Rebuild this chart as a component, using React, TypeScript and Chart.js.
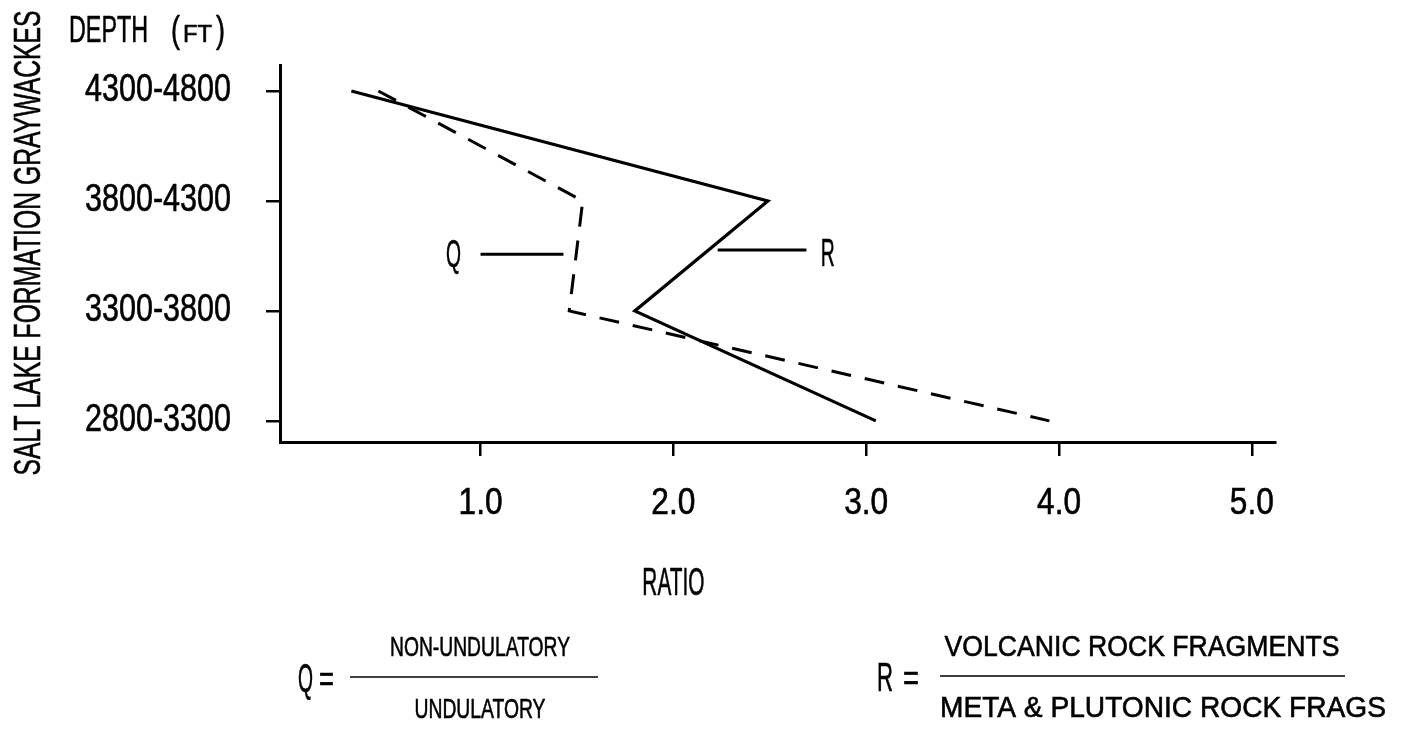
import React, { useEffect, useRef } from 'react';
import { Chart, registerables } from 'chart.js';

Chart.register(...registerables);

// ---- data ----
const depthRanges = ['4300-4800', '3800-4300', '3300-3800', '2800-3300'];
const depthMidpoints = [4550, 4050, 3550, 3050];
const qRatio = [0.47, 1.53, 1.46, 3.95];
const rRatio = [0.33, 2.49, 1.8, 3.05];
const xTickValues = [1, 2, 3, 4, 5];
const xTickLabels = ['1.0', '2.0', '3.0', '4.0', '5.0'];

const FONT = '"Liberation Sans", Arial, sans-serif';
const INK = '#000';

// draws text with a given cap height, squeezed horizontally to a given width
function fitText(
  ctx: CanvasRenderingContext2D,
  text: string,
  x: number,
  cy: number,
  capH: number,
  width: number,
  align: CanvasTextAlign
) {
  const size = capH / 0.716;
  ctx.save();
  ctx.font = `${size}px ${FONT}`;
  const w = ctx.measureText(text).width;
  ctx.translate(x, cy + capH / 2);
  ctx.scale(width / w, 1);
  ctx.textAlign = align;
  ctx.textBaseline = 'alphabetic';
  ctx.fillStyle = INK;
  ctx.strokeStyle = INK;
  ctx.lineWidth = 0.6;
  ctx.fillText(text, 0, 0);
  ctx.strokeText(text, 0, 0);
  ctx.restore();
}

function hLine(ctx: CanvasRenderingContext2D, x1: number, x2: number, y: number, w: number) {
  ctx.save();
  ctx.strokeStyle = INK;
  ctx.lineWidth = w;
  ctx.beginPath();
  ctx.moveTo(x1, y);
  ctx.lineTo(x2, y);
  ctx.stroke();
  ctx.restore();
}

const textPlugin = {
  id: 'textPlugin',
  afterDraw(chart: any) {
    const ctx: CanvasRenderingContext2D = chart.ctx;
    const xs = chart.scales.x;
    const ys = chart.scales.y;

    // rotated axis title
    ctx.save();
    ctx.translate(26, 243);
    ctx.rotate(-Math.PI / 2);
    fitText(ctx, 'SALT LAKE FORMATION GRAYWACKES', 0, 0, 27, 465, 'center');
    ctx.restore();

    // DEPTH (FT)
    fitText(ctx, 'DEPTH', 69, 28, 27, 79, 'left');
    fitText(ctx, '(', 171, 28, 27, 9, 'left');
    fitText(ctx, 'FT', 183, 33, 17, 29, 'left');
    fitText(ctx, ')', 216, 28, 27, 9, 'left');

    // y tick labels
    depthMidpoints.forEach((d, i) => {
      const py = ys.getPixelForValue(d);
      fitText(ctx, depthRanges[i], 231, py - 4, 28, 146, 'right');
    });

    // x tick labels
    xTickValues.forEach((v, i) => {
      const px = xs.getPixelForValue(v);
      fitText(ctx, xTickLabels[i], px, 500, 27, 44, 'center');
    });

    // x title
    fitText(ctx, 'RATIO', xs.getPixelForValue(2.0), 581, 28, 62, 'center');

    // Q / R leader labels
    const qy = ys.getPixelForValue(3812);
    fitText(ctx, 'Q', xs.getPixelForValue(0.86), qy, 28, 15, 'center');
    hLine(ctx, xs.getPixelForValue(1.0), xs.getPixelForValue(1.43), qy + 1, 3);
    const ry = ys.getPixelForValue(3818);
    fitText(ctx, 'R', xs.getPixelForValue(2.8), ry, 28, 14, 'center');
    hLine(ctx, xs.getPixelForValue(2.23), xs.getPixelForValue(2.69), ry - 2, 3);

    // formulas
    fitText(ctx, 'Q', 298, 677, 29, 15, 'left');
    fitText(ctx, '=', 319, 678, 26, 15, 'left');
    fitText(ctx, 'NON-UNDULATORY', 480, 646, 20, 180, 'center');
    hLine(ctx, 350, 598, 677, 1.5);
    fitText(ctx, 'UNDULATORY', 480, 708, 20, 131, 'center');

    fitText(ctx, 'R', 877, 676, 29, 16, 'left');
    fitText(ctx, '=', 903, 677, 26, 16, 'left');
    fitText(ctx, 'VOLCANIC ROCK FRAGMENTS', 1142, 645, 21, 395, 'center');
    hLine(ctx, 940, 1345, 676, 1.5);
    fitText(ctx, 'META & PLUTONIC ROCK FRAGS', 1163, 706, 21, 446, 'center');
  },
};

export default function App() {
  const canvasRef = useRef<HTMLCanvasElement | null>(null);

  useEffect(() => {
    const canvas = canvasRef.current;
    if (!canvas) return;
    const chart = new Chart(canvas, {
      type: 'line',
      data: {
        datasets: [
          {
            label: 'Q',
            data: depthMidpoints.map((d, i) => ({ x: qRatio[i], y: d })),
            borderColor: INK,
            borderWidth: 3,
            borderDash: [20, 14],
            pointRadius: 0,
            tension: 0,
            fill: false,
          },
          {
            label: 'R',
            data: depthMidpoints.map((d, i) => ({ x: rRatio[i], y: d })),
            borderColor: INK,
            borderWidth: 3.2,
            pointRadius: 0,
            tension: 0,
            fill: false,
          },
        ],
      },
      options: {
        animation: false,
        responsive: true,
        maintainAspectRatio: false,
        layout: { padding: { left: 266, right: 130, top: 65, bottom: 275 } },
        plugins: {
          legend: { display: false },
          tooltip: { enabled: false },
          title: { display: false },
        },
        scales: {
          x: {
            type: 'linear',
            min: -0.04,
            max: 5.12,
            afterBuildTicks: (scale: any) => {
              scale.ticks = xTickValues.map((v) => ({ value: v }));
            },
            ticks: { display: false },
            grid: {
              display: true,
              drawOnChartArea: false,
              drawTicks: true,
              tickLength: 14,
              color: INK,
              lineWidth: 2.5,
            },
            border: { display: true, color: INK, width: 3 },
          },
          y: {
            type: 'linear',
            min: 2954,
            max: 4668,
            afterBuildTicks: (scale: any) => {
              scale.ticks = depthMidpoints.map((v) => ({ value: v }));
            },
            ticks: { display: false },
            grid: {
              display: true,
              drawOnChartArea: false,
              drawTicks: true,
              tickLength: 14,
              color: INK,
              lineWidth: 2.5,
            },
            border: { display: true, color: INK, width: 3 },
          },
        },
      },
      plugins: [textPlugin],
    } as any);
    return () => chart.destroy();
  }, []);

  return (
    <div
      style={{
        position: 'fixed',
        left: 0,
        top: 0,
        width: 1405,
        height: 731,
        background: '#fff',
      }}
    >
      <canvas ref={canvasRef} />
    </div>
  );
}
